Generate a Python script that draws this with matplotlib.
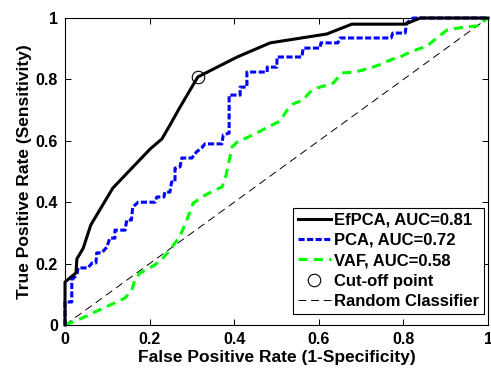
import numpy as np
import matplotlib
matplotlib.use("Agg")
import matplotlib.pyplot as plt

plt.rcParams['font.family'] = ['Liberation Sans', 'DejaVu Sans']
plt.rcParams['font.weight'] = 'bold'

# ROC curves
efpca_fpr = [0, 0, 0.026, 0.028, 0.043, 0.061, 0.113, 0.201, 0.229, 0.248, 0.272,
             0.314, 0.407, 0.485, 0.619, 0.678, 0.804, 0.84, 1.0]
efpca_tpr = [0, 0.14, 0.17, 0.215, 0.25, 0.326, 0.446, 0.573, 0.606, 0.651, 0.71,
             0.808, 0.873, 0.919, 0.948, 0.98, 0.98, 1.0, 1.0]

pca_fpr = [0, 0, 0.016, 0.016, 0.028, 0.031, 0.054, 0.064, 0.073, 0.075, 0.087,
           0.099, 0.106, 0.118, 0.118, 0.142, 0.146, 0.157, 0.16, 0.173, 0.213,
           0.217, 0.234, 0.236, 0.248, 0.252, 0.26, 0.26, 0.272, 0.276, 0.30,
           0.311, 0.323, 0.331, 0.371, 0.374, 0.388, 0.388, 0.414, 0.414, 0.43,
           0.43, 0.478, 0.478, 0.501, 0.501, 0.56, 0.563, 0.603, 0.605, 0.645,
           0.65, 0.771, 0.775, 0.804, 0.808, 0.823, 1.0]
pca_tpr = [0, 0.075, 0.075, 0.147, 0.163, 0.186, 0.186, 0.202, 0.202, 0.235, 0.235,
           0.254, 0.283, 0.283, 0.309, 0.309, 0.342, 0.342, 0.384, 0.40, 0.40,
           0.417, 0.417, 0.433, 0.433, 0.466, 0.466, 0.511, 0.515, 0.544, 0.544,
           0.564, 0.577, 0.59, 0.59, 0.619, 0.625, 0.749, 0.749, 0.775, 0.775,
           0.824, 0.824, 0.84, 0.84, 0.873, 0.873, 0.902, 0.902, 0.919, 0.919,
           0.935, 0.935, 0.951, 0.951, 0.984, 1.0, 1.0]

vaf_fpr = [0, 0.019, 0.051, 0.09, 0.118, 0.142, 0.158, 0.165, 0.177, 0.201, 0.225,
           0.248, 0.272, 0.288, 0.303, 0.331, 0.371, 0.378, 0.385, 0.395, 0.407,
           0.444, 0.48, 0.508, 0.525, 0.539, 0.563, 0.579, 0.596, 0.634, 0.655,
           0.686, 0.721, 0.749, 0.768, 0.792, 0.816, 0.856, 0.879, 0.903, 0.946,
           0.974, 1.0]
vaf_tpr = [0, 0.01, 0.029, 0.055, 0.072, 0.088, 0.114, 0.147, 0.169, 0.186, 0.208,
           0.244, 0.29, 0.342, 0.397, 0.423, 0.45, 0.472, 0.515, 0.58, 0.596,
           0.619, 0.645, 0.664, 0.70, 0.72, 0.733, 0.759, 0.772, 0.788, 0.821,
           0.824, 0.837, 0.85, 0.863, 0.873, 0.889, 0.909, 0.935, 0.961, 0.971,
           0.974, 1.0]

cutoff = (0.314, 0.808)
ticks = [0, 0.2, 0.4, 0.6, 0.8, 1]
tick_labels = ['0', '0.2', '0.4', '0.6', '0.8', '1']

fig = plt.figure(figsize=(4.91, 3.73), dpi=100)
ax = fig.add_axes([0.1324, 0.1287, 0.8615, 0.823])

ax.plot(efpca_fpr, efpca_tpr, color='black', lw=2.2, label='EfPCA, AUC=0.81',
        clip_on=False, zorder=4)
ax.plot(pca_fpr, pca_tpr, color='blue', lw=2.2, dashes=(2, 0.8),
        label='PCA, AUC=0.72', clip_on=False, zorder=3)
ax.plot(vaf_fpr, vaf_tpr, color=(0, 1, 0), lw=2.2, dashes=(3, 2),
        label='VAF, AUC=0.58', clip_on=False, zorder=2)
ax.plot(cutoff[0], cutoff[1], 'o', mfc='none', mec='black', ms=9, mew=0.8,
        label='Cut-off point', zorder=5)
ax.plot([0, 1], [0, 1], color='black', lw=0.7, dashes=(8, 5),
        label='Random Classifier', zorder=1)

ax.set_xlim(0, 1)
ax.set_ylim(0, 1)
ax.set_xticks(ticks)
ax.set_xticklabels(tick_labels)
ax.set_yticks(ticks)
ax.set_yticklabels(tick_labels)
ax.tick_params(direction='in', top=True, right=True, length=4, width=0.7,
               labelsize=11.5, pad=5)
for s in ax.spines.values():
    s.set_linewidth(0.8)

ax.set_xlabel('False Positive Rate (1-Specificity)', fontsize=12.5, fontweight='bold',
              labelpad=2)
ax.set_ylabel('True Positive Rate (Sensitivity)', fontsize=12.5, fontweight='bold',
              labelpad=3)

leg = ax.legend(loc='lower right', bbox_to_anchor=(0.99, 0.036), fontsize=12,
                frameon=True, fancybox=False, edgecolor='black', framealpha=1,
                handlelength=2.0, handletextpad=0.15, labelspacing=0.32,
                borderpad=0.3, borderaxespad=0)
leg.get_frame().set_linewidth(0.8)

fig.savefig('out.png', dpi=100)
